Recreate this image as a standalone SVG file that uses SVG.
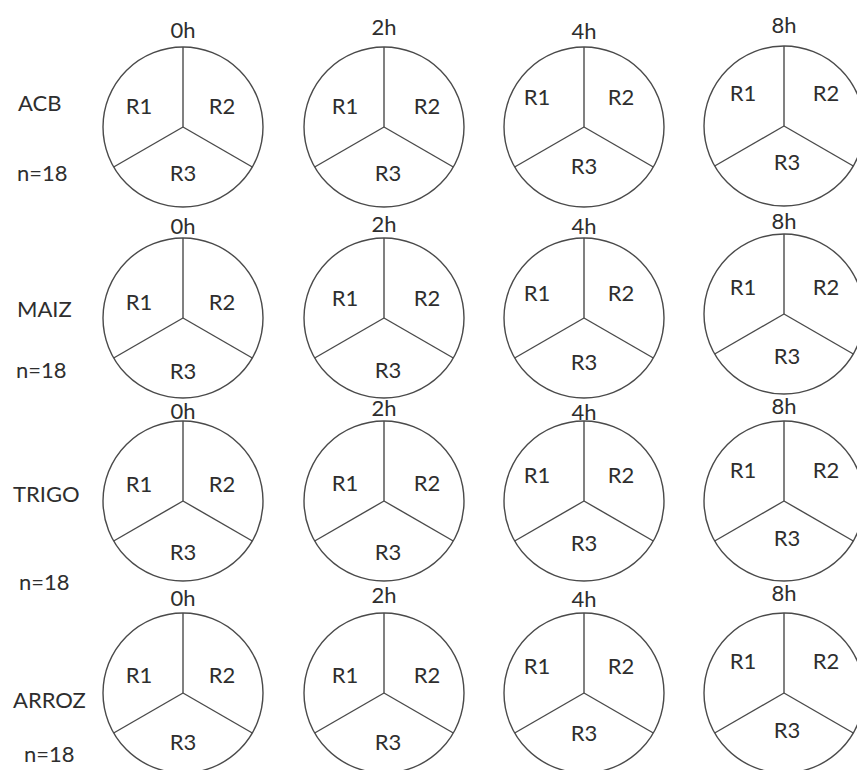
<svg xmlns="http://www.w3.org/2000/svg" xmlns:xlink="http://www.w3.org/1999/xlink" width="857" height="770" viewBox="0 0 857 770">
<style>
  text { font-family: Lato, "Open Sans", "Liberation Sans", sans-serif; font-size: 22px; fill: #2e2e2e; }
  .c { text-anchor: middle; }
  .pie circle, .pie line { fill: #ffffff; stroke: #4a4a4a; stroke-width: 1.4; }
</style>
<defs>
  <g id="pie" class="pie">
    <circle cx="0" cy="0" r="80"/>
    <line x1="0" y1="0" x2="0" y2="-80"/>
    <line x1="0" y1="0" x2="-69.3" y2="40"/>
    <line x1="0" y1="0" x2="69.3" y2="40"/>
  </g>
</defs>
<rect width="857" height="770" fill="#ffffff"/>

<g id="row-labels">
  <text x="18" y="111">ACB</text>
  <text x="17" y="181">n=18</text>
  <text x="17" y="317">MAIZ</text>
  <text x="16" y="378">n=18</text>
  <text x="13" y="502">TRIGO</text>
  <text x="19" y="590">n=18</text>
  <text x="13" y="708">ARROZ</text>
  <text x="24" y="762">n=18</text>
</g>

<g id="connectors"/>

<!-- Row 1 ACB -->
<g id="acb-0h">
  <use xlink:href="#pie" x="183" y="127"/>
  <text class="c" x="183" y="38">0h</text>
  <text class="c" x="139" y="114">R1</text><text class="c" x="222" y="114">R2</text><text class="c" x="183" y="181">R3</text>
</g>
<g id="acb-2h">
  <use xlink:href="#pie" x="384" y="127"/>
  <text class="c" x="384" y="35">2h</text>
  <text class="c" x="345" y="114">R1</text><text class="c" x="427" y="114">R2</text><text class="c" x="388" y="181">R3</text>
</g>
<g id="acb-4h">
  <use xlink:href="#pie" x="584" y="127"/>
  <text class="c" x="584" y="39">4h</text>
  <text class="c" x="537" y="105">R1</text><text class="c" x="621" y="105">R2</text><text class="c" x="584" y="174">R3</text>
</g>
<g id="acb-8h">
  <use xlink:href="#pie" x="784" y="126"/>
  <text class="c" x="784" y="33">8h</text>
  <text class="c" x="743" y="101">R1</text><text class="c" x="826" y="101">R2</text><text class="c" x="787" y="170">R3</text>
</g>

<!-- Row 2 MAIZ -->
<g id="maiz-0h">
  <use xlink:href="#pie" x="183" y="318"/>
  <text class="c" x="183" y="234">0h</text>
  <text class="c" x="139" y="310">R1</text><text class="c" x="222" y="310">R2</text><text class="c" x="183" y="379">R3</text>
</g>
<g id="maiz-2h">
  <use xlink:href="#pie" x="384" y="318"/>
  <text class="c" x="384" y="232">2h</text>
  <text class="c" x="345" y="306">R1</text><text class="c" x="427" y="306">R2</text><text class="c" x="388" y="378">R3</text>
</g>
<g id="maiz-4h">
  <use xlink:href="#pie" x="584" y="318"/>
  <text class="c" x="584" y="234">4h</text>
  <text class="c" x="537" y="301">R1</text><text class="c" x="621" y="301">R2</text><text class="c" x="584" y="370">R3</text>
</g>
<g id="maiz-8h">
  <use xlink:href="#pie" x="784" y="314"/>
  <text class="c" x="784" y="229">8h</text>
  <text class="c" x="743" y="295">R1</text><text class="c" x="826" y="295">R2</text><text class="c" x="787" y="364">R3</text>
</g>

<!-- Row 3 TRIGO -->
<g id="trigo-0h">
  <use xlink:href="#pie" x="183" y="501"/>
  <text class="c" x="183" y="419">0h</text>
  <text class="c" x="139" y="492">R1</text><text class="c" x="222" y="492">R2</text><text class="c" x="183" y="560">R3</text>
</g>
<g id="trigo-2h">
  <use xlink:href="#pie" x="384" y="501"/>
  <text class="c" x="384" y="416">2h</text>
  <text class="c" x="345" y="491">R1</text><text class="c" x="427" y="491">R2</text><text class="c" x="388" y="560">R3</text>
</g>
<g id="trigo-4h">
  <use xlink:href="#pie" x="584" y="501"/>
  <text class="c" x="584" y="420">4h</text>
  <text class="c" x="537" y="483">R1</text><text class="c" x="621" y="483">R2</text><text class="c" x="584" y="551">R3</text>
</g>
<g id="trigo-8h">
  <use xlink:href="#pie" x="784" y="501"/>
  <text class="c" x="784" y="414">8h</text>
  <text class="c" x="743" y="478">R1</text><text class="c" x="826" y="478">R2</text><text class="c" x="787" y="546">R3</text>
</g>

<!-- Row 4 ARROZ -->
<g id="arroz-0h">
  <use xlink:href="#pie" x="183" y="693"/>
  <text class="c" x="183" y="606">0h</text>
  <text class="c" x="139" y="683">R1</text><text class="c" x="222" y="683">R2</text><text class="c" x="183" y="750">R3</text>
</g>
<g id="arroz-2h">
  <use xlink:href="#pie" x="384" y="693"/>
  <text class="c" x="384" y="603">2h</text>
  <text class="c" x="345" y="683">R1</text><text class="c" x="427" y="683">R2</text><text class="c" x="388" y="750">R3</text>
</g>
<g id="arroz-4h">
  <use xlink:href="#pie" x="584" y="693"/>
  <text class="c" x="584" y="607">4h</text>
  <text class="c" x="537" y="674">R1</text><text class="c" x="621" y="674">R2</text><text class="c" x="584" y="741">R3</text>
</g>
<g id="arroz-8h">
  <use xlink:href="#pie" x="784" y="693"/>
  <text class="c" x="784" y="601">8h</text>
  <text class="c" x="743" y="669">R1</text><text class="c" x="826" y="669">R2</text><text class="c" x="787" y="738">R3</text>
</g>
</svg>
